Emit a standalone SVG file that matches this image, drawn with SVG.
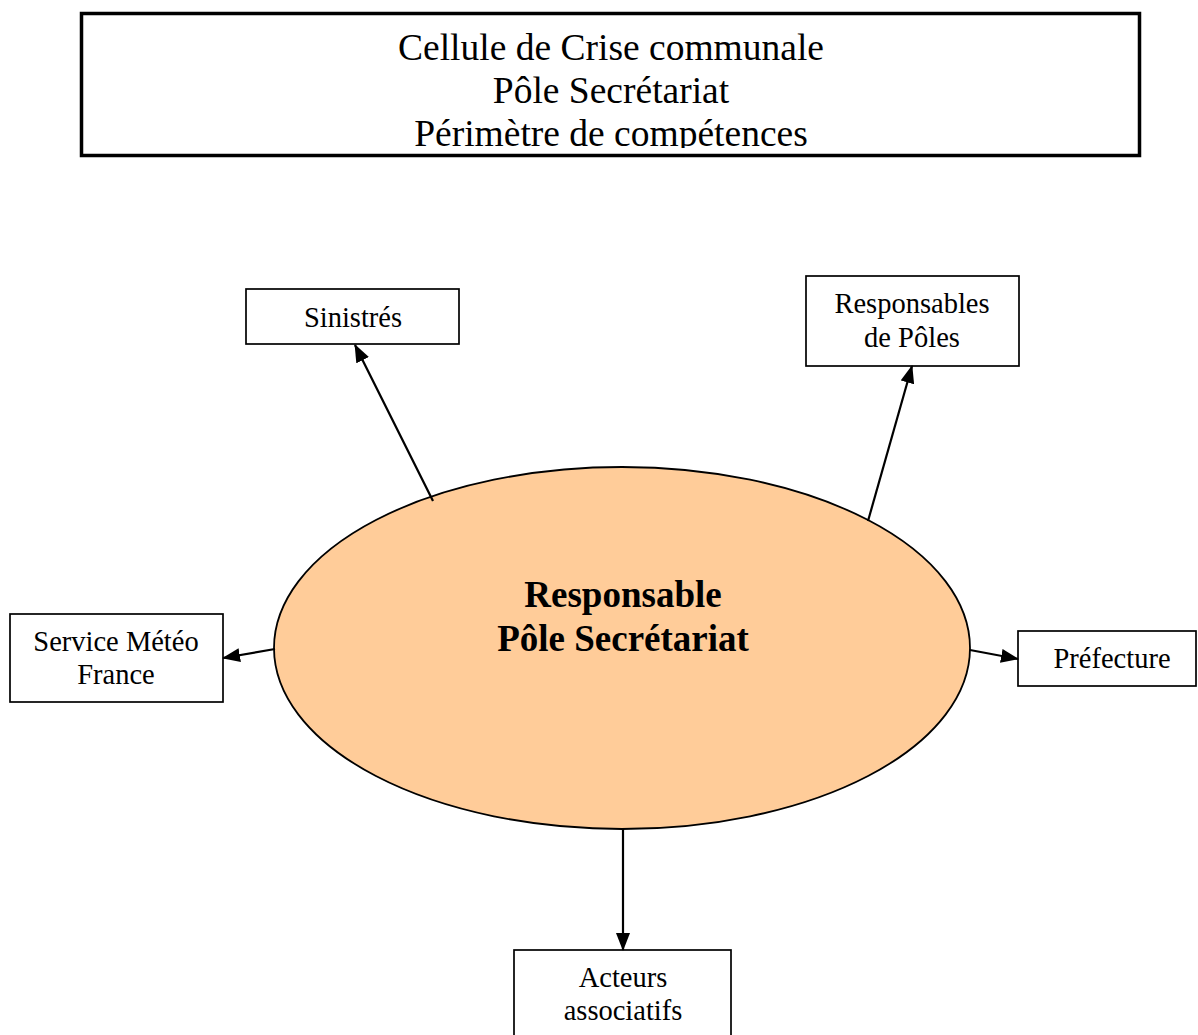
<svg xmlns="http://www.w3.org/2000/svg" width="1198" height="1035" viewBox="0 0 1198 1035">
<style>
.box{fill:#fff;stroke:#000;stroke-width:1.7}
.t{font-family:"Liberation Serif","Times New Roman",serif;font-size:28.5px;fill:#000;text-anchor:middle}
.title{font-family:"Liberation Serif","Times New Roman",serif;font-size:37.5px;fill:#000;text-anchor:middle}
.main{font-family:"Liberation Serif","Times New Roman",serif;font-size:37px;font-weight:bold;fill:#000;text-anchor:middle}
.conn{stroke:#000;stroke-width:2.2;fill:none;marker-end:url(#ah)}
</style>
<defs>
<marker id="ah" markerUnits="userSpaceOnUse" markerWidth="18" markerHeight="14" refX="17" refY="7" orient="auto" viewBox="0 0 18 14">
<path d="M0,0 L18,7 L0,14 z" fill="#000"/>
</marker>
<clipPath id="tc"><rect x="80" y="12" width="1062" height="136"/></clipPath>
</defs>
<rect width="1198" height="1035" fill="#fff"/>
<g id="title">
<rect x="81.5" y="13.5" width="1058" height="142" fill="#fff" stroke="#000" stroke-width="3.5"/>
<g clip-path="url(#tc)">
<text class="title" x="611" y="60">Cellule de Crise communale</text>
<text class="title" x="611" y="103">Pôle Secrétariat</text>
<text class="title" x="611" y="146">Périmètre de compétences</text>
</g>
</g>
<g id="center">
<ellipse cx="622" cy="648" rx="348" ry="181" fill="#FFCC99" stroke="#000" stroke-width="1.8"/>
<text class="main" x="623" y="607">Responsable</text>
<text class="main" x="623" y="651">Pôle Secrétariat</text>
</g>
<g id="sinistres">
<rect class="box" x="246" y="289" width="213" height="55"/>
<text class="t" x="353" y="327">Sinistrés</text>
</g>
<g id="responsables">
<rect class="box" x="806" y="276" width="213" height="90"/>
<text class="t" x="912" y="313">Responsables</text>
<text class="t" x="912" y="347">de Pôles</text>
</g>
<g id="meteo">
<rect class="box" x="10" y="614" width="213" height="88"/>
<text class="t" x="116" y="651">Service Météo</text>
<text class="t" x="116" y="684">France</text>
</g>
<g id="prefecture">
<rect class="box" x="1018" y="631" width="178" height="55"/>
<text class="t" x="1112" y="668">Préfecture</text>
</g>
<g id="acteurs">
<rect class="box" x="514" y="950" width="217" height="95"/>
<text class="t" x="623" y="987">Acteurs</text>
<text class="t" x="623" y="1020">associatifs</text>
</g>
<g id="connectors">
<line class="conn" x1="433" y1="501" x2="355" y2="345"/>
<line class="conn" x1="868" y1="521" x2="912" y2="366"/>
<line class="conn" x1="275" y1="649" x2="223" y2="658"/>
<line class="conn" x1="970" y1="650" x2="1018" y2="659"/>
<line class="conn" x1="623" y1="829" x2="623" y2="950"/>
</g>
</svg>
